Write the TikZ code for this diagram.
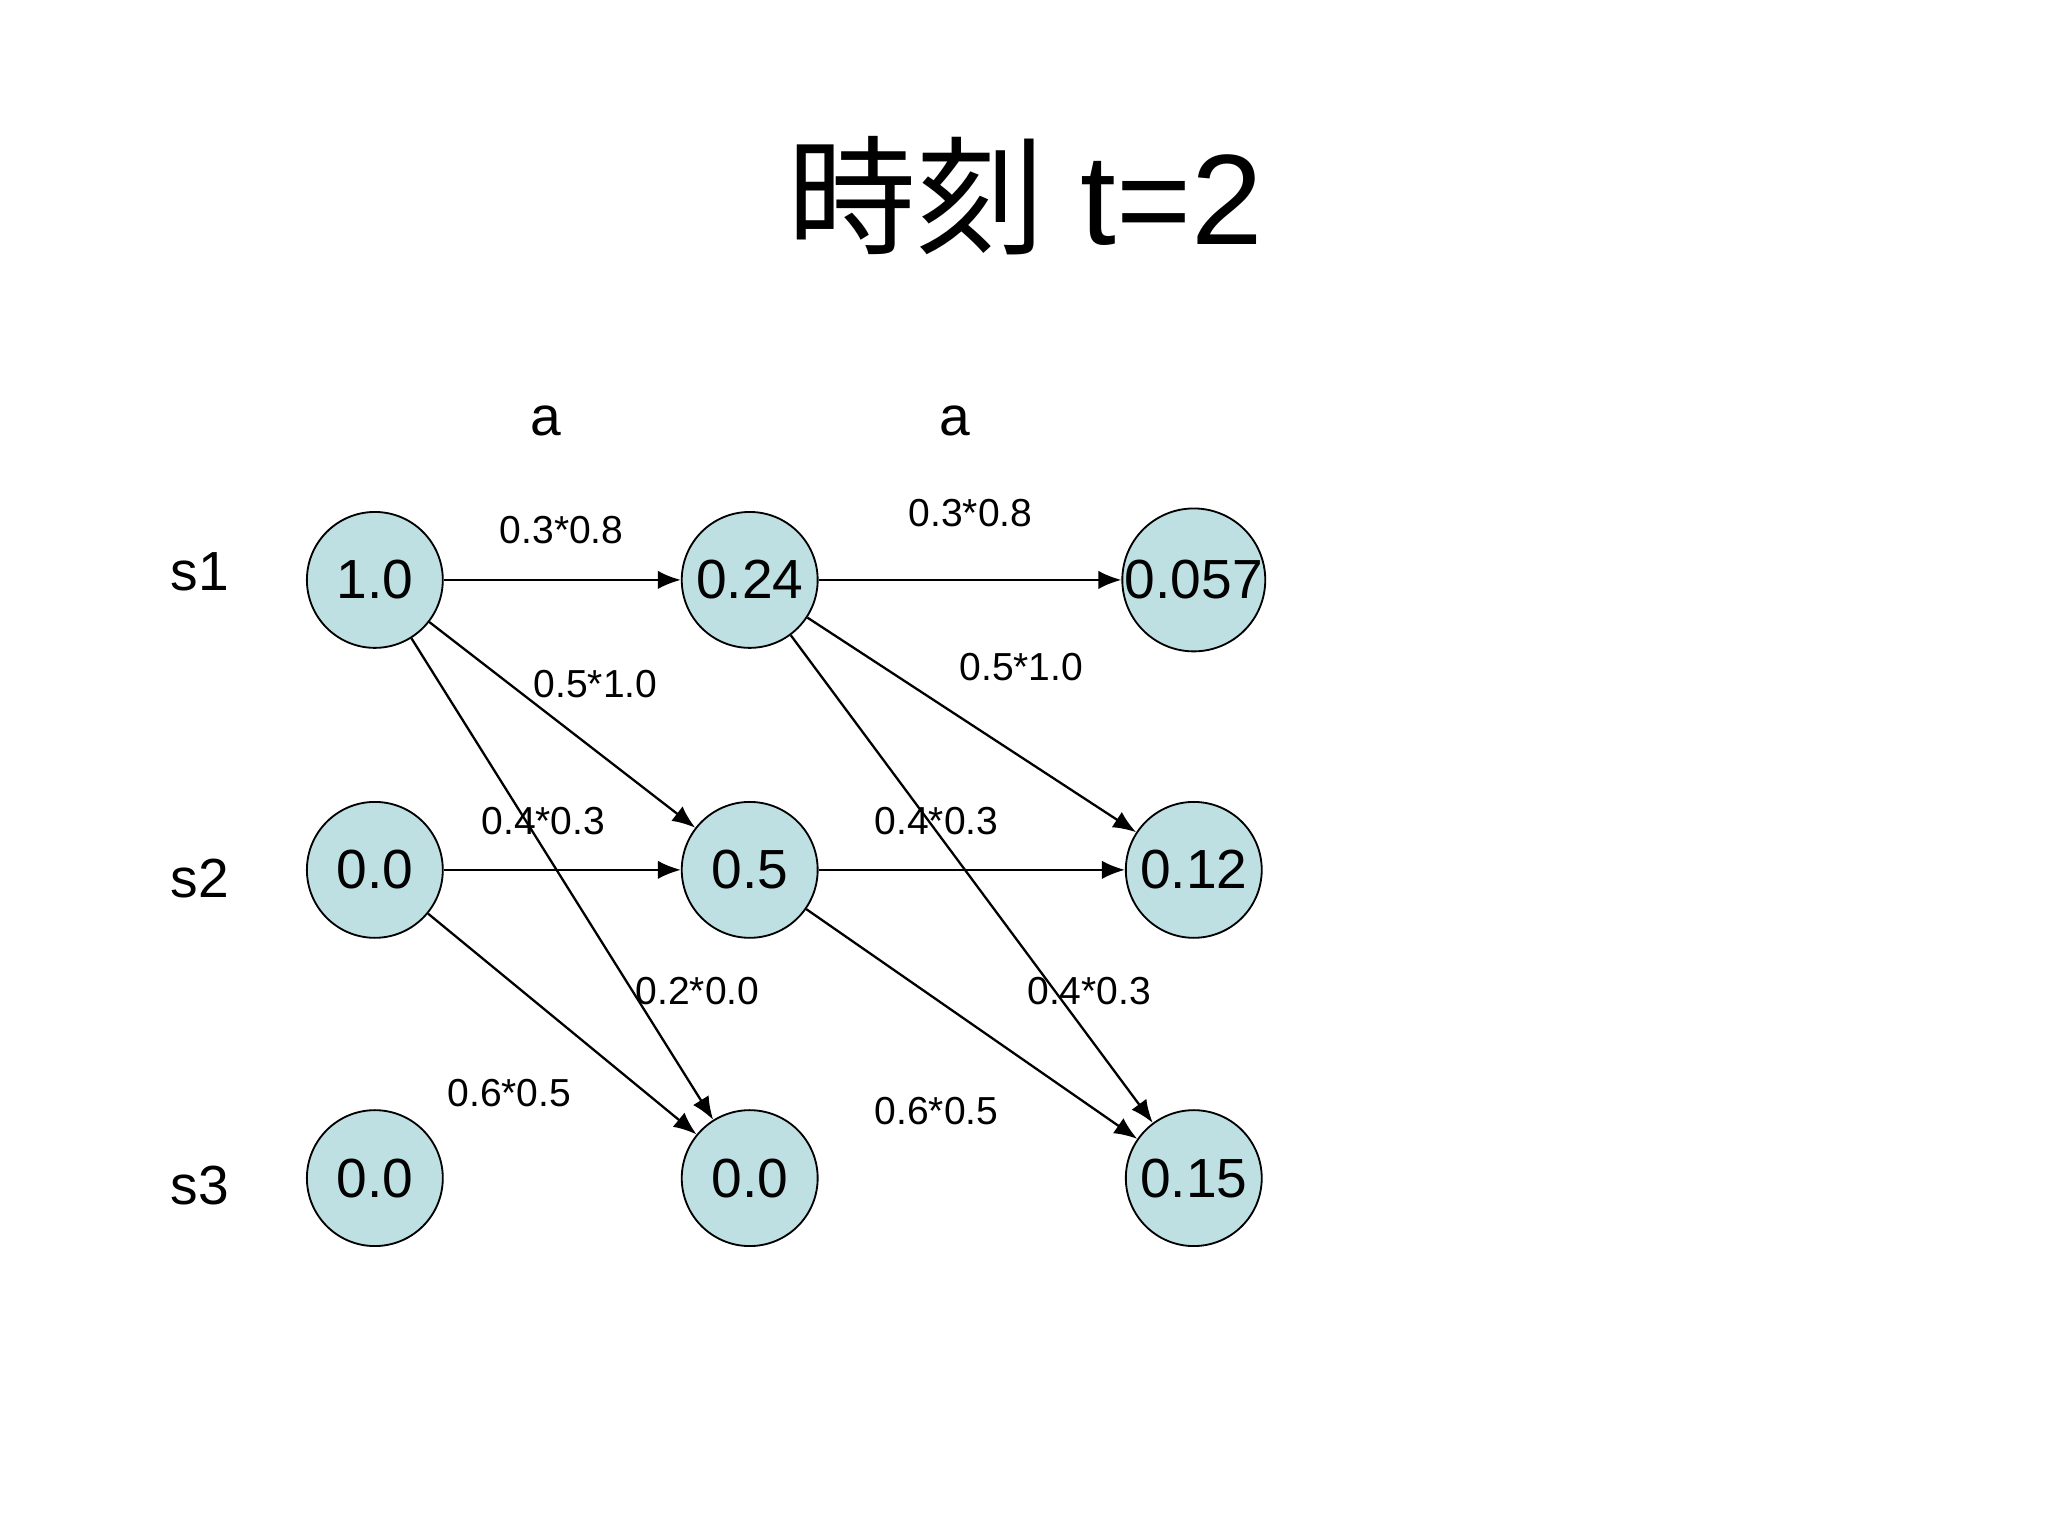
\documentclass[tikz,border=0pt]{standalone}
\usepackage{fontspec}
\setmainfont{Liberation Sans}
\newfontfamily\cjk{Noto Sans CJK JP}
\usetikzlibrary{arrows.meta}
\begin{document}
\begin{tikzpicture}[x=0.01cm,y=-0.01cm,
  st/.style={circle,draw,fill={rgb,255:red,190;green,224;blue,226},minimum size=1.04cm,inner sep=0pt,font=\fontsize{12}{14}\selectfont},
  lb/.style={font=\fontsize{8.5}{10}\selectfont},
  rl/.style={font=\fontsize{12}{14}\selectfont},
  ar/.style={-{Latex[length=5pt,width=4pt]},line width=0.5pt}]
\useasboundingbox (0,0) rectangle (1568,1176);
\node[font=\fontsize{28}{32}\selectfont] (title) at (785,150) {{\cjk 時刻} t=2};
\node[rl] (a1) at (418,322) {a};
\node[rl] (a2) at (731,322) {a};
\node[rl] (r1) at (153,438) {s1};
\node[rl] (r2) at (153,673) {s2};
\node[rl] (r3) at (153,908) {s3};
\node[st] (n11) at (287,444) {1.0};
\node[st] (n21) at (287,666) {0.0};
\node[st] (n31) at (287,902) {0.0};
\node[st] (n12) at (574,444) {0.24};
\node[st] (n22) at (574,666) {0.5};
\node[st] (n32) at (574,902) {0.0};
\node[st] (n13) at (914,444) {0.057};
\node[st] (n23) at (914,666) {0.12};
\node[st] (n33) at (914,902) {0.15};
\draw[ar] (n11) -- (n12);
\draw[ar] (n11) -- (n22);
\draw[ar] (n11) -- (n32);
\draw[ar] (n21) -- (n22);
\draw[ar] (n21) -- (n32);
\draw[ar] (n12) -- (n13);
\draw[ar] (n12) -- (n23);
\draw[ar] (n12) -- (n33);
\draw[ar] (n22) -- (n23);
\draw[ar] (n22) -- (n33);
\node[lb] (l1) at (430,406) {0.3*0.8};
\node[lb] (l2) at (456,524) {0.5*1.0};
\node[lb] (l3) at (416,629) {0.4*0.3};
\node[lb] (l4) at (534,759) {0.2*0.0};
\node[lb] (l5) at (390,837) {0.6*0.5};
\node[lb] (l6) at (743,393) {0.3*0.8};
\node[lb] (l7) at (782,511) {0.5*1.0};
\node[lb] (l8) at (717,629) {0.4*0.3};
\node[lb] (l9) at (834,759) {0.4*0.3};
\node[lb] (l10) at (717,851) {0.6*0.5};
\end{tikzpicture}
\end{document}
